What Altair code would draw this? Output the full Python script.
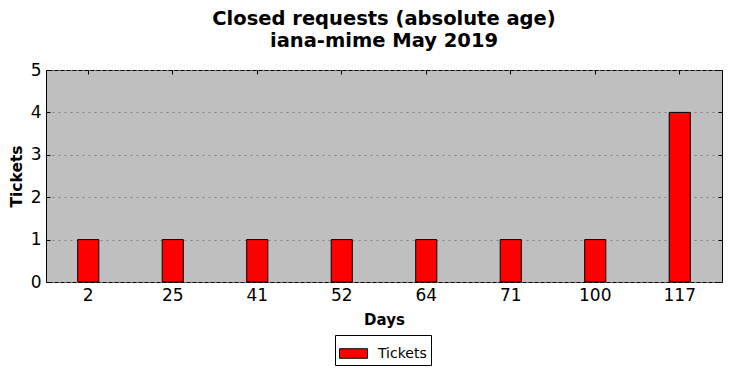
import altair as alt
import pandas as pd

days = ["2", "25", "41", "52", "64", "71", "100", "117"]
tickets = [1, 1, 1, 1, 1, 1, 1, 4]
series = ["Tickets"] * len(days)
y_ticks = [0, 1, 2, 3, 4, 5]

df = pd.DataFrame({"Days": days, "Tickets": tickets, "series": series})

FONT = "DejaVu Sans"

xscale = alt.Scale(paddingInner=0.75, paddingOuter=0.375)
yscale = alt.Scale(domain=[0, 5], nice=False)

bars = alt.Chart(df).mark_bar(stroke="black", strokeWidth=1).encode(
    x=alt.X("Days:N", sort=days, scale=xscale,
            axis=alt.Axis(title="Days", orient="bottom", labelAngle=0, offset=-4, tickSize=4,
                          tickColor="black", domain=False, labelPadding=5, labelFontSize=17,
                          labelColor="black", titleFontSize=15, titleFontWeight="bold",
                          titlePadding=9, titleColor="black", grid=False)),
    y=alt.Y("Tickets:Q", scale=yscale,
            axis=alt.Axis(title="Tickets", orient="left", values=y_ticks, format="d", offset=-4,
                          tickSize=4, tickColor="black", domain=False, labelPadding=5,
                          labelFontSize=17, labelColor="black", titleFontSize=15.5,
                          titleFontWeight="bold", titlePadding=6, titleColor="black",
                          grid=True, gridColor="#808080", gridDash=[2, 4], gridWidth=1)),
    color=alt.Color("series:N", scale=alt.Scale(domain=["Tickets"], range=["#ff0000"]),
                    legend=alt.Legend(title=None, orient="none", legendX=289, legendY=265,
                                      strokeColor="black", fillColor="white", padding=4,
                                      symbolType="M-1,-0.34H1V0.34H-1Z", symbolSize=784,
                                      symbolStrokeColor="black", symbolStrokeWidth=1,
                                      labelFontSize=14, labelColor="black", labelFont=FONT,
                                      symbolOpacity=1, cornerRadius=0, labelOffset=10)),
)

mirror = alt.Chart(df).mark_bar(opacity=0).encode(
    x=alt.X("Days:N", sort=days, scale=xscale,
            axis=alt.Axis(title=None, orient="top", labels=False, offset=-4, tickSize=4,
                          tickColor="black", domain=False, grid=False)),
    y=alt.Y("Tickets:Q", scale=yscale,
            axis=alt.Axis(title=None, orient="right", labels=False, values=y_ticks, offset=-4,
                          tickSize=4, tickColor="black", domain=False, grid=False)),
)

chart = alt.layer(bars, mirror).resolve_axis(x="independent", y="independent").properties(
    width=676,
    height=212,
    title=alt.Title(["Closed requests (absolute age)", "iana-mime May 2019"],
                    fontSize=19.5, fontWeight="bold", font=FONT, color="black",
                    anchor="middle", lineHeight=22, offset=10),
    autosize=alt.AutoSizeParams(type="none"),
    padding={"left": 38, "top": 62, "right": 2, "bottom": 86},
).configure(font=FONT).configure_view(fill="#bfbfbf", stroke="black", strokeWidth=1
).configure_axis(labelFont=FONT, titleFont=FONT)

chart.save("out.html", embed_options={"renderer": "svg", "actions": False})
